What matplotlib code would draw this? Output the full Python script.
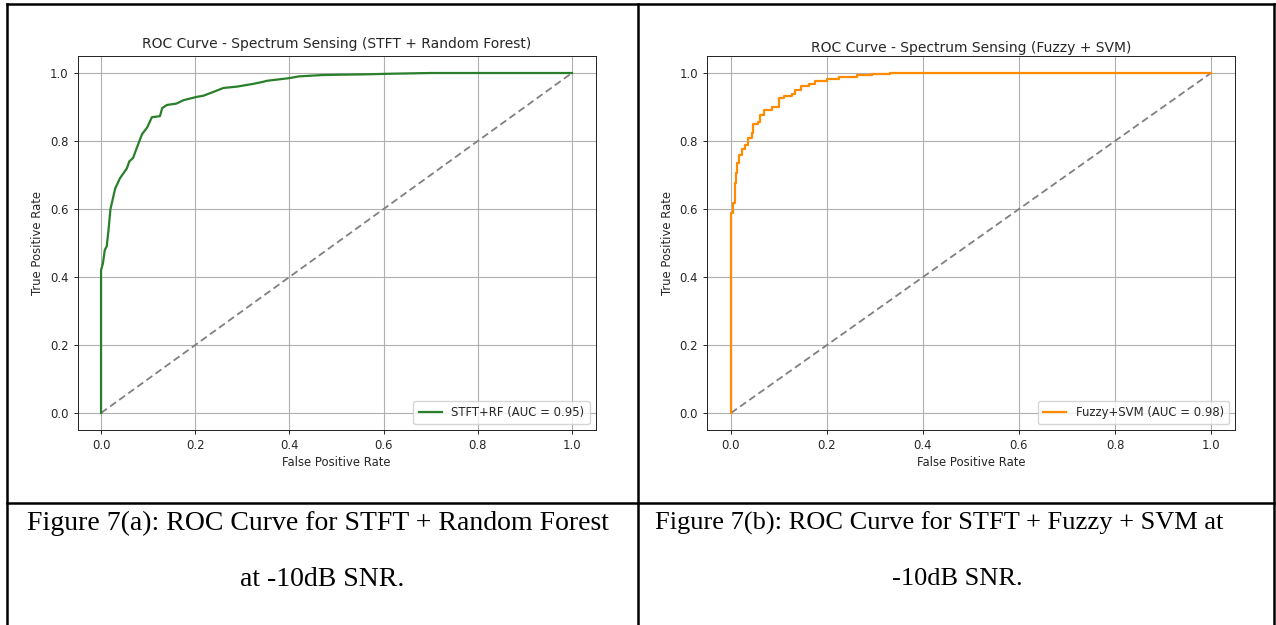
import matplotlib
matplotlib.use("Agg")
import matplotlib.pyplot as plt
from matplotlib.lines import Line2D

# ---- data ----
rf_fpr = [0.0, 0.0, 0.004, 0.008, 0.012, 0.016, 0.02, 0.025, 0.03, 0.04, 0.055, 0.06, 0.068,
          0.076, 0.087, 0.098, 0.108, 0.125, 0.13, 0.14, 0.16, 0.175, 0.204, 0.217, 0.238,
          0.26, 0.289, 0.323, 0.344, 0.352, 0.40, 0.42, 0.47, 0.51, 0.56, 0.62, 0.70, 0.80, 1.0]
rf_tpr = [0.0, 0.42, 0.44, 0.48, 0.49, 0.54, 0.60, 0.63, 0.66, 0.69, 0.72, 0.74, 0.75,
          0.78, 0.82, 0.84, 0.87, 0.873, 0.897, 0.906, 0.91, 0.92, 0.93, 0.933, 0.944,
          0.956, 0.96, 0.968, 0.974, 0.977, 0.985, 0.99, 0.994, 0.995, 0.996, 0.998, 1.0, 1.0, 1.0]

svm_fpr = [0.0, 0.0, 0.004, 0.004, 0.008, 0.011, 0.013, 0.017, 0.022, 0.030, 0.036, 0.044,
           0.046, 0.057, 0.060, 0.069, 0.086, 0.100, 0.101, 0.110, 0.127, 0.133, 0.145,
           0.162, 0.176, 0.200, 0.224, 0.262, 0.293, 0.331, 1.0]
svm_tpr = [0.0, 0.587, 0.587, 0.617, 0.676, 0.705, 0.734, 0.759, 0.776, 0.788, 0.808, 0.823,
           0.850, 0.857, 0.876, 0.891, 0.899, 0.908, 0.926, 0.932, 0.937, 0.950, 0.962,
           0.968, 0.976, 0.983, 0.989, 0.995, 0.997, 1.0, 1.0]

diag = [0.0, 1.0]
ticks = [0.0, 0.2, 0.4, 0.6, 0.8, 1.0]

titles = ["ROC Curve - Spectrum Sensing (STFT + Random Forest)",
          "ROC Curve - Spectrum Sensing (Fuzzy + SVM)"]
labels = ["STFT+RF (AUC = 0.95)", "Fuzzy+SVM (AUC = 0.98)"]
captions_a = ["Figure 7(a): ROC Curve for STFT + Random Forest", "at -10dB SNR."]
captions_b = ["Figure 7(b): ROC Curve for STFT + Fuzzy + SVM at", "-10dB SNR."]

W, H = 1276, 625
fig = plt.figure(figsize=(W / 100, H / 100), dpi=100)
fig.patch.set_facecolor("white")

FS = 8.4
TXT = "#262626"


def fx(px):
    return px / W


def fy(py):
    return 1 - py / H


def make_ax(x0, x1, y0, y1, fpr, tpr, color, title, label, tpad, ds):
    ax = fig.add_axes([fx(x0), fy(y1), fx(x1) - fx(x0), fy(y0) - fy(y1)])
    ax.plot(fpr, tpr, color=color, lw=1.6, label=label, zorder=3, drawstyle=ds)
    ax.plot(diag, diag, color="gray", ls="--", lw=1.3, dashes=(4, 2.2), zorder=2)
    ax.set_xlim(-0.05, 1.05)
    ax.set_ylim(-0.05, 1.05)
    ax.set_xticks(ticks)
    ax.set_yticks(ticks)
    ax.grid(True, color="#b0b0b0", lw=0.8)
    ax.set_axisbelow(True)
    ax.tick_params(labelsize=FS, colors=TXT, length=3, width=0.7)
    for s in ax.spines.values():
        s.set_linewidth(0.7)
        s.set_color("#222222")
    ax.set_xlabel("False Positive Rate", fontsize=FS, color=TXT, labelpad=3)
    ax.set_ylabel("True Positive Rate", fontsize=FS, color=TXT, labelpad=4)
    ax.set_title(title, fontsize=10, color=TXT, pad=tpad)
    leg = ax.legend(loc="lower right", fontsize=FS, handlelength=2.0,
                    borderpad=0.45, framealpha=0.8)
    for t in leg.get_texts():
        t.set_color(TXT)
    return ax


make_ax(77.5, 595.5, 56, 430, rf_fpr, rf_tpr, "#2a7f2a", titles[0], labels[0], 6, "default")
make_ax(707, 1235, 56, 430, svm_fpr, svm_tpr, "#ff8c00", titles[1], labels[1], 3, "steps-post")

# ---- table borders ----
lw = 1.8
for (xa, ya, xb, yb) in [(7, 4, 1274, 4), (7, 4, 7, 625), (1274, 4, 1274, 625),
                         (638, 4, 638, 625), (7, 503, 1274, 503)]:
    fig.add_artist(Line2D([fx(xa), fx(xb)], [fy(ya), fy(yb)], color="black", lw=lw,
                          transform=fig.transFigure))

# ---- captions ----
fam = ["Liberation Serif", "DejaVu Serif"]
fig.text(fx(27), fy(523), captions_a[0], fontsize=20, family=fam, ha="left", va="center")
fig.text(fx(322), fy(579), captions_a[1], fontsize=20, family=fam, ha="center", va="center")
fig.text(fx(655), fy(523), captions_b[0], fontsize=19, family=fam, ha="left", va="center")
fig.text(fx(957), fy(579), captions_b[1], fontsize=19, family=fam, ha="center", va="center")

fig.savefig("out.png", dpi=100, facecolor="white")
